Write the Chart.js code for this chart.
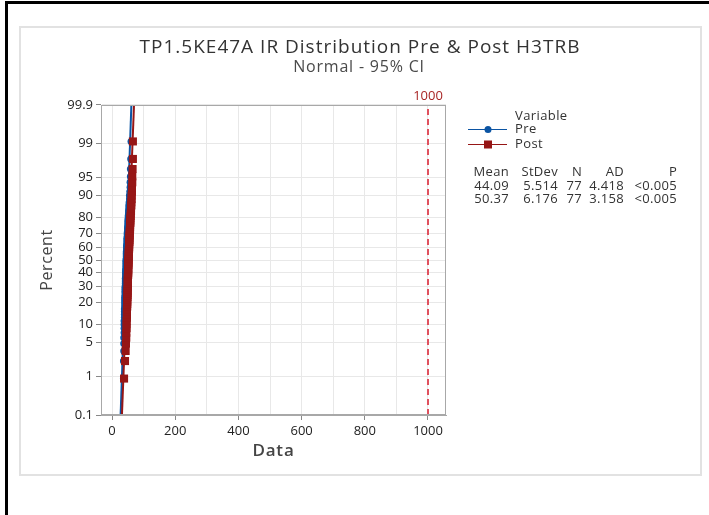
<!DOCTYPE html>
<html>
<head>
<meta charset="utf-8">
<script src="https://cdn.jsdelivr.net/npm/chart.js@4.4.1/dist/chart.umd.min.js"></script>
<style>
  html, body { margin: 0; padding: 0; background: #fff; }
  #page { position: relative; width: 709px; height: 515px; overflow: hidden; }
  #edge { position: absolute; left: 5px; top: 1px; right: 0; bottom: 0; border-left: 3px solid #000; border-top: 3px solid #000; }
  #frame { position: absolute; left: 19px; top: 26px; width: 679px; height: 446px; border: 2px solid #e2e2e2; }
  #wrap { position: absolute; left: 0; top: 0; width: 709px; height: 515px; }
</style>
</head>
<body>
<div id="page">
  <div id="edge"></div>
  <div id="frame"></div>
  <div id="wrap"><canvas id="chart" width="709" height="515"></canvas></div>
</div>
<script>
// --- data ---
const preData = [36, 36, 37, 37, 37, 38, 38, 38, 38, 39, 39, 39, 39, 40, 40, 40, 40, 40, 41, 41,
  41, 41, 41, 42, 42, 42, 42, 42, 43, 43, 43, 43, 43, 44, 44, 44, 44, 44, 44, 45, 45, 45, 45,
  45, 46, 46, 46, 46, 47, 47, 47, 47, 48, 48, 48, 49, 49, 49, 50, 50, 50, 51, 51, 52, 52, 53,
  53, 54, 55, 55, 56, 57, 57, 58, 58, 59, 60];
const postData = [38, 41, 43, 44, 45, 45, 46, 46, 46, 47, 47, 47, 47, 48, 48, 48, 48, 49, 49, 49,
  49, 49, 50, 50, 50, 50, 50, 50, 50, 51, 51, 51, 51, 51, 51, 52, 52, 52, 52, 52, 53, 53, 53,
  53, 53, 54, 54, 54, 54, 55, 55, 55, 55, 56, 56, 56, 57, 57, 57, 58, 58, 58, 59, 59, 60, 60,
  61, 61, 62, 62, 63, 63, 64, 64, 65, 66, 66];
const seriesNames = ['Pre', 'Post'];
const means = [44.09, 50.37];
const stdevs = [5.514, 6.176];
const counts = [77, 77];
const adValues = ['4.418', '3.158'];
const pValues = ['<0.005', '<0.005'];
const refValue = 1000;
const percentTicks = [0.1, 1, 5, 10, 20, 30, 40, 50, 60, 70, 80, 90, 95, 99, 99.9];
const xGrid = [0, 100, 200, 300, 400, 500, 600, 700, 800, 900, 1000];
const xTicks = [0, 200, 400, 600, 800, 1000];

const BLUE = '#0b54a3';
const RED = '#961616';
const REF = '#e0505e';

// inverse normal CDF (Acklam) used for the probability scale
function normInv(p) {
  const a = [-3.969683028665376e+01, 2.209460984245205e+02, -2.759285104469687e+02, 1.383577518672690e+02, -3.066479806614716e+01, 2.506628277459239e+00];
  const b = [-5.447609879822406e+01, 1.615858368580409e+02, -1.556989798598866e+02, 6.680131188771972e+01, -1.328068155288572e+01];
  const c = [-7.784894002430293e-03, -3.223964580411365e-01, -2.400758277161838e+00, -2.549732539343734e+00, 4.374664141464968e+00, 2.938163982698783e+00];
  const d = [7.784695709041462e-03, 3.224671290700398e-01, 2.445134137142996e+00, 3.754408661907416e+00];
  const pl = 0.02425;
  if (p < pl) {
    const q = Math.sqrt(-2 * Math.log(p));
    return (((((c[0]*q+c[1])*q+c[2])*q+c[3])*q+c[4])*q+c[5]) / ((((d[0]*q+d[1])*q+d[2])*q+d[3])*q+1);
  }
  if (p > 1 - pl) {
    const q = Math.sqrt(-2 * Math.log(1 - p));
    return -(((((c[0]*q+c[1])*q+c[2])*q+c[3])*q+c[4])*q+c[5]) / ((((d[0]*q+d[1])*q+d[2])*q+d[3])*q+1);
  }
  const q = p - 0.5, r = q * q;
  return (((((a[0]*r+a[1])*r+a[2])*r+a[3])*r+a[4])*r+a[5])*q / (((((b[0]*r+b[1])*r+b[2])*r+b[3])*r+b[4])*r+1);
}

const zMin = normInv(0.001);
const zMax = normInv(0.999);

// median-rank plotting positions
function probPoints(arr) {
  const s = arr.slice().sort((a, b) => a - b);
  const n = s.length;
  return s.map((v, i) => ({ x: v, y: normInv((i + 1 - 0.3) / (n + 0.4)) }));
}
function fitLine(k) {
  return [zMin, zMax].map(z => ({ x: means[k] + z * stdevs[k], y: z }));
}

// text, frame and legend drawn on top
const annotate = {
  id: 'annotate',
  afterDraw(chart) {
    const ctx = chart.ctx;
    const ca = chart.chartArea;
    const xs = chart.scales.x;
    ctx.save();
    ctx.strokeStyle = '#a8a8a8';
    ctx.lineWidth = 1;
    ctx.strokeRect(ca.left + 0.5, ca.top + 0.5, ca.right - ca.left - 1, ca.bottom - ca.top - 1);

    ctx.textAlign = 'center';
    ctx.textBaseline = 'middle';
    ctx.fillStyle = '#333';
    ctx.font = '19px "Open Sans"';
    ctx.letterSpacing = '1px';
    ctx.fillText('TP1.5KE47A IR Distribution Pre & Post H3TRB', 360, 48);
    ctx.fillStyle = '#4a4a4a';
    ctx.font = '16px "Open Sans"';
    ctx.letterSpacing = '0.8px';
    ctx.fillText('Normal - 95% CI', 359, 67);

    ctx.fillStyle = '#444';
    ctx.font = '600 17px "Open Sans"';
    ctx.letterSpacing = '0.8px';
    ctx.fillText('Data', (ca.left + ca.right) / 2, 451);
    ctx.save();
    ctx.translate(47, (ca.top + ca.bottom) / 2);
    ctx.rotate(-Math.PI / 2);
    ctx.font = '16px "Open Sans"';
    ctx.letterSpacing = '0.6px';
    ctx.fillText('Percent', 0, 0);
    ctx.restore();

    // reference label
    ctx.letterSpacing = '0px';
    ctx.fillStyle = '#a82525';
    ctx.font = '13px "Open Sans"';
    ctx.fillText(String(refValue), xs.getPixelForValue(refValue), 96);

    // legend
    ctx.textAlign = 'left';
    ctx.fillStyle = '#333';
    ctx.font = '13px "Open Sans"';
    ctx.letterSpacing = '0.4px';
    ctx.fillText('Variable', 515, 116);
    const lg = [[BLUE, 'circle'], [RED, 'rect']];
    seriesNames.forEach((name, k) => {
      const y = 129 + k * 15;
      ctx.strokeStyle = lg[k][0];
      ctx.lineWidth = 1.2;
      ctx.beginPath();
      ctx.moveTo(468, y + 0.5);
      ctx.lineTo(507, y + 0.5);
      ctx.stroke();
      ctx.fillStyle = lg[k][0];
      if (lg[k][1] === 'circle') {
        ctx.beginPath();
        ctx.arc(488, y + 0.5, 3.5, 0, Math.PI * 2);
        ctx.fill();
      } else {
        ctx.fillRect(484, y - 3.5, 8, 8);
      }
      ctx.fillStyle = '#333';
      ctx.fillText(name, 515, y);
    });

    // stats table
    ctx.textAlign = 'right';
    ctx.font = '13px "Open Sans"';
    ctx.letterSpacing = '0.3px';
    const cols = [509, 558, 582, 624, 677];
    ['Mean', 'StDev', 'N', 'AD', 'P'].forEach((h, i) => ctx.fillText(h, cols[i], 172));
    seriesNames.forEach((name, k) => {
      const y = 186 + k * 13;
      const row = [means[k].toFixed(2), stdevs[k].toFixed(3), String(counts[k]), adValues[k], pValues[k]];
      row.forEach((t, i) => ctx.fillText(t, cols[i], y));
    });
    ctx.restore();
  }
};

// Chart.js paints the first dataset last (on top)
new Chart(document.getElementById('chart'), {
  type: 'scatter',
  data: {
    datasets: [
      { label: 'Post', data: probPoints(postData), pointStyle: 'rect', pointRadius: 5.7, backgroundColor: RED, borderColor: RED, borderWidth: 0 },
      { label: 'Post fit', data: fitLine(1), showLine: true, borderColor: RED, borderWidth: 2, pointRadius: 0 },
      { label: 'Pre fit', data: fitLine(0), showLine: true, borderColor: BLUE, borderWidth: 2, pointRadius: 0 },
      { label: 'Pre', data: probPoints(preData), pointStyle: 'circle', pointRadius: 3.5, backgroundColor: BLUE, borderColor: BLUE, borderWidth: 0 },
      { label: 'Ref', data: [{ x: refValue, y: zMin }, { x: refValue, y: zMax }], showLine: true, borderColor: REF, borderWidth: 2, borderDash: [6, 4], pointRadius: 0 }
    ]
  },
  options: {
    responsive: false,
    animation: false,
    events: [],
    layout: { padding: { left: 0, top: 105, right: 263, bottom: 0 } },
    plugins: { legend: { display: false }, tooltip: { enabled: false }, title: { display: false } },
    scales: {
      x: {
        type: 'linear',
        min: -35,
        max: 1057,
        afterFit: s => { s.height = 100; },
        afterBuildTicks: s => { s.ticks = xGrid.map(v => ({ value: v })); },
        border: { color: '#a8a8a8' },
        grid: {
          color: '#e8e8e8',
          lineWidth: 1,
          tickLength: 5,
          tickColor: c => (c.tick && xTicks.includes(c.tick.value) ? '#888' : 'transparent')
        },
        ticks: {
          maxRotation: 0,
          autoSkip: false,
          padding: 3,
          color: '#222',
          font: { family: 'Open Sans', size: 13 },
          callback: v => (xTicks.includes(v) ? String(v) : '')
        }
      },
      y: {
        type: 'linear',
        min: zMin,
        max: zMax,
        afterFit: s => { s.width = 101; },
        afterBuildTicks: s => { s.ticks = percentTicks.map(p => ({ value: normInv(p / 100) })); },
        border: { color: '#a8a8a8' },
        grid: { color: '#e8e8e8', lineWidth: 1, tickLength: 5, tickColor: '#888' },
        ticks: {
          autoSkip: false,
          padding: 3,
          color: '#222',
          font: { family: 'Open Sans', size: 13 },
          callback: (v, i) => String(percentTicks[i])
        }
      }
    }
  },
  plugins: [annotate]
});
</script>
</body>
</html>
